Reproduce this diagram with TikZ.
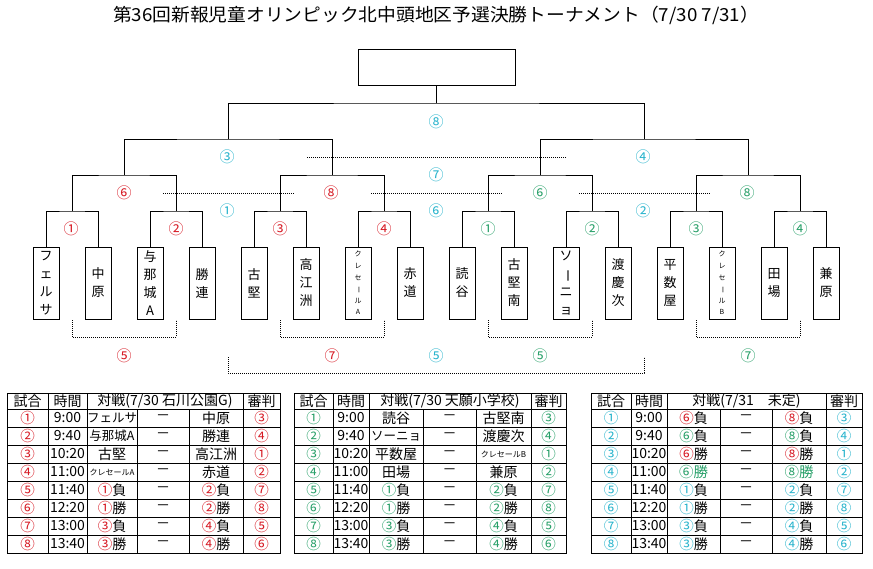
\documentclass[tikz,border=0pt]{standalone}
\usepackage{fontspec}
\setmainfont{Noto Sans CJK JP}
\usetikzlibrary{calc}
\definecolor{cr}{RGB}{215,25,35}
\definecolor{cc}{RGB}{40,180,205}
\definecolor{cg}{RGB}{40,160,105}
\newcommand\vbar{\rotatebox[origin=c]{-90}{ー}}
\newcommand\colR[1]{{\fontsize{14.5}{14}\selectfont\textcolor{cr}{#1}}}
\newcommand\colG[1]{{\fontsize{14.5}{14}\selectfont\textcolor{cg}{#1}}}
\newcommand\colC[1]{{\fontsize{14.5}{14}\selectfont\textcolor{cc}{#1}}}
\newcommand\smallname[1]{{\fontsize{8}{8}\selectfont #1}}
\newcommand\midname[1]{{\fontsize{12.5}{12}\selectfont #1}}
\newcommand\tgrid[7]{%
  \draw[gridl] (#1,393) rectangle (#7,553);
  \draw[gridl] (#2,393) -- (#2,553) (#3,393) -- (#3,553) (#6,393) -- (#6,553)
               (#4,409) -- (#4,553) (#5,409) -- (#5,553);
  \foreach \k in {0,...,7} \draw[gridl] (#1,409+18*\k) -- (#7,409+18*\k);
}
\newcommand\tcols[6]{\def\cxa{#1}\def\cxb{#2}\def\cxc{#3}\def\cxd{#4}\def\cxe{#5}\def\cxf{#6}}
\newcommand\tabrow[7]{%
  \pgfmathsetmacro\ry{400+18*#2}
  \node[cell] (#1-#2-1) at (\cxa,\ry) {#3};
  \node[cell] (#1-#2-2) at (\cxb,\ry) {#4};
  \node[cell] (#1-#2-3) at (\cxc,\ry) {#5};
  \node[cell] (#1-#2-4) at (\cxd,\ry) {－};
  \node[cell] (#1-#2-5) at (\cxe,\ry) {#6};
  \node[cell] (#1-#2-6) at (\cxf,\ry) {#7};
}
\begin{document}
\begin{tikzpicture}[x=1pt,y=-1pt,
  br/.style={line width=0.9pt},
  dots/.style={line width=0.8pt, dash pattern=on 0.8pt off 1.2pt},
  gridl/.style={line width=0.8pt},
  team/.style={draw, line width=0.9pt, minimum width=26, minimum height=72, inner sep=0pt,
    align=center, font=\fontsize{13}{18}\selectfont},
  teamS/.style={team, font=\fontsize{7}{11.6}\selectfont},
  lab/.style={font=\fontsize{15}{15}\selectfont, inner sep=0pt},
  cell/.style={font=\fontsize{14}{14}\selectfont, inner sep=0pt}]
\useasboundingbox (0,0) rectangle (873,568);
\fill[white] (0,0) rectangle (873,568);

% title
\node[inner sep=0pt] (title) at (436,15)
  {\resizebox{646pt}{\height}{\fontsize{18}{18}\selectfont 第36回新報児童オリンピック北中頭地区予選決勝トーナメント（7/30 7/31）}};

% top box
\node[draw, line width=0.9pt, minimum width=157, minimum height=36, inner sep=0pt] (top) at (436.5,67) {};

% teams
\node[team] (t1) at (46,283) {フ\\ェ\\ル\\サ};
\node[team] (t2) at (98,283) {中\\原};
\node[team] (t3) at (150,283) {与\\那\\城\\A};
\node[team] (t4) at (202,283) {勝\\連};
\node[team] (t5) at (254,283) {古\\堅};
\node[team] (t6) at (306,283) {高\\江\\洲};
\node[teamS] (t7) at (358,283) {ク\\レ\\セ\\\vbar\\ル\\A};
\node[team] (t8) at (410,283) {赤\\道};
\node[team] (t9) at (462,283) {読\\谷};
\node[team] (t10) at (514,283) {古\\堅\\南};
\node[team] (t11) at (566,283) {ソ\\\vbar\\ニ\\ョ};
\node[team] (t12) at (618,283) {渡\\慶\\次};
\node[team] (t13) at (670,283) {平\\数\\屋};
\node[teamS] (t14) at (722,283) {ク\\レ\\セ\\\vbar\\ル\\B};
\node[team] (t15) at (774,283) {田\\場};
\node[team] (t16) at (826,283) {兼\\原};

% junctions
\coordinate (m1) at (72,211);  \coordinate (m2) at (176,211);
\coordinate (m3) at (280,211); \coordinate (m4) at (384,211);
\coordinate (m5) at (488,211); \coordinate (m6) at (592,211);
\coordinate (m7) at (696,211); \coordinate (m8) at (800,211);
\coordinate (s1) at (124,175); \coordinate (s2) at (332,175);
\coordinate (s3) at (540,175); \coordinate (s4) at (748,175);
\coordinate (q1) at (228,139); \coordinate (q2) at (644,139);
\coordinate (f) at (436.5,103);

\draw[br] (t1.north) |- (m1) -| (t2.north);
\draw[br] (t3.north) |- (m2) -| (t4.north);
\draw[br] (t5.north) |- (m3) -| (t6.north);
\draw[br] (t7.north) |- (m4) -| (t8.north);
\draw[br] (t9.north) |- (m5) -| (t10.north);
\draw[br] (t11.north) |- (m6) -| (t12.north);
\draw[br] (t13.north) |- (m7) -| (t14.north);
\draw[br] (t15.north) |- (m8) -| (t16.north);
\draw[br] (m1) |- (s1) -| (m2);
\draw[br] (m3) |- (s2) -| (m4);
\draw[br] (m5) |- (s3) -| (m6);
\draw[br] (m7) |- (s4) -| (m8);
\draw[br] (s1) |- (q1) -| (s2);
\draw[br] (s3) |- (q2) -| (s4);
\draw[br] (q1) |- (f) -| (q2);
\draw[br] (f) -- (top.south);

% dotted lines
\draw[dots] (163,193) -- (294,193);
\draw[dots] (371,193) -- (502,193);
\draw[dots] (579,193) -- (710,193);
\draw[dots] (307,157) -- (566,157);
\draw[dots] (72,320) -- (72,337) -- (176,337) -- (176,320);
\draw[dots] (280,320) -- (280,337) -- (384,337) -- (384,320);
\draw[dots] (488,320) -- (488,337) -- (592,337) -- (592,320);
\draw[dots] (696,320) -- (696,337) -- (800,337) -- (800,320);
\draw[dots] (228,357) -- (228,373) -- (644,373) -- (644,357);

% bracket labels
\node[lab, text=cc] (l8f) at (436,122) {⑧};
\node[lab, text=cc] (l3c) at (227,157) {③};
\node[lab, text=cc] (l4c) at (643,157) {④};
\node[lab, text=cc] (l7c) at (436,175) {⑦};
\node[lab, text=cc] (l6c) at (436,211) {⑥};
\node[lab, text=cc] (l1c) at (227,211) {①};
\node[lab, text=cc] (l2c) at (643,211) {②};
\node[lab, text=cr] (l6r) at (124,193) {⑥};
\node[lab, text=cr] (l8r) at (331,193) {⑧};
\node[lab, text=cg] (l6g) at (540,193) {⑥};
\node[lab, text=cg] (l8g) at (747,193) {⑧};
\node[lab, text=cr] (l1r) at (71,229) {①};
\node[lab, text=cr] (l2r) at (176,229) {②};
\node[lab, text=cr] (l3r) at (280,229) {③};
\node[lab, text=cr] (l4r) at (384,229) {④};
\node[lab, text=cg] (l1g) at (488,229) {①};
\node[lab, text=cg] (l2g) at (592,229) {②};
\node[lab, text=cg] (l3g) at (696,229) {③};
\node[lab, text=cg] (l4g) at (800,229) {④};
\node[lab, text=cr] (l5r) at (124,356) {⑤};
\node[lab, text=cr] (l7r) at (332,356) {⑦};
\node[lab, text=cc] (l5c) at (436,356) {⑤};
\node[lab, text=cg] (l5g) at (540,356) {⑤};
\node[lab, text=cg] (l7g) at (748,356) {⑦};

% ---------- table A ----------
\tgrid{7}{48}{87}{137}{189}{243}{280}
\node[cell] (Ah1) at (27.5,401) {試合};
\node[cell] (Ah2) at (67.5,401) {時間};
\node[cell] (Ah3) at (165,401) {対戦(7/30 石川公園G)};
\node[cell] (Ah4) at (261.5,401) {審判};
\tcols{27.5}{67.5}{112}{163}{216}{261.5}
\tabrow{A}{1}{\colR{①}}{9:00}{\midname{フェルサ}}{中原}{\colR{③}}
\tabrow{A}{2}{\colR{②}}{9:40}{\midname{与那城A}}{勝連}{\colR{④}}
\tabrow{A}{3}{\colR{③}}{10:20}{古堅}{高江洲}{\colR{①}}
\tabrow{A}{4}{\colR{④}}{11:00}{\smallname{クレセールA}}{赤道}{\colR{②}}
\tabrow{A}{5}{\colR{⑤}}{11:40}{\colR{①}負}{\colR{②}負}{\colR{⑦}}
\tabrow{A}{6}{\colR{⑥}}{12:20}{\colR{①}勝}{\colR{②}勝}{\colR{⑧}}
\tabrow{A}{7}{\colR{⑦}}{13:00}{\colR{③}負}{\colR{④}負}{\colR{⑤}}
\tabrow{A}{8}{\colR{⑧}}{13:40}{\colR{③}勝}{\colR{④}勝}{\colR{⑥}}

% ---------- table B ----------
\tgrid{294}{333}{369}{423}{476}{531}{566}
\node[cell] (Bh1) at (313.5,401) {試合};
\node[cell] (Bh2) at (351,401) {時間};
\node[cell] (Bh3) at (450,401) {対戦(7/30 天願小学校)};
\node[cell] (Bh4) at (548.5,401) {審判};
\tcols{313.5}{351}{396}{449.5}{503.5}{548.5}
\tabrow{B}{1}{\colG{①}}{9:00}{読谷}{古堅南}{\colG{③}}
\tabrow{B}{2}{\colG{②}}{9:40}{\midname{ソーニョ}}{渡慶次}{\colG{④}}
\tabrow{B}{3}{\colG{③}}{10:20}{平数屋}{\smallname{クレセールB}}{\colG{①}}
\tabrow{B}{4}{\colG{④}}{11:00}{田場}{兼原}{\colG{②}}
\tabrow{B}{5}{\colG{⑤}}{11:40}{\colG{①}負}{\colG{②}負}{\colG{⑦}}
\tabrow{B}{6}{\colG{⑥}}{12:20}{\colG{①}勝}{\colG{②}勝}{\colG{⑧}}
\tabrow{B}{7}{\colG{⑦}}{13:00}{\colG{③}負}{\colG{④}負}{\colG{⑤}}
\tabrow{B}{8}{\colG{⑧}}{13:40}{\colG{③}勝}{\colG{④}勝}{\colG{⑥}}

% ---------- table C ----------
\tgrid{591}{631}{667}{720}{772}{826}{862}
\node[cell] (Ch1) at (611,401) {試合};
\node[cell] (Ch2) at (649,401) {時間};
\node[cell] (Ch3) at (746.5,401) {対戦(7/31　未定)};
\node[cell] (Ch4) at (844,401) {審判};
\tcols{611}{649}{693.5}{746}{799}{844}
\tabrow{C}{1}{\colC{①}}{9:00}{\colR{⑥}負}{\colR{⑧}負}{\colC{③}}
\tabrow{C}{2}{\colC{②}}{9:40}{\colG{⑥}負}{\colG{⑧}負}{\colC{④}}
\tabrow{C}{3}{\colC{③}}{10:20}{\colR{⑥}勝}{\colR{⑧}勝}{\colC{①}}
\tabrow{C}{4}{\colC{④}}{11:00}{\colG{⑥勝}}{\colG{⑧勝}}{\colC{②}}
\tabrow{C}{5}{\colC{⑤}}{11:40}{\colC{①}負}{\colC{②}負}{\colC{⑦}}
\tabrow{C}{6}{\colC{⑥}}{12:20}{\colC{①}勝}{\colC{②}勝}{\colC{⑧}}
\tabrow{C}{7}{\colC{⑦}}{13:00}{\colC{③}負}{\colC{④}負}{\colC{⑤}}
\tabrow{C}{8}{\colC{⑧}}{13:40}{\colC{③}勝}{\colC{④}勝}{\colC{⑥}}
\end{tikzpicture}
\end{document}
